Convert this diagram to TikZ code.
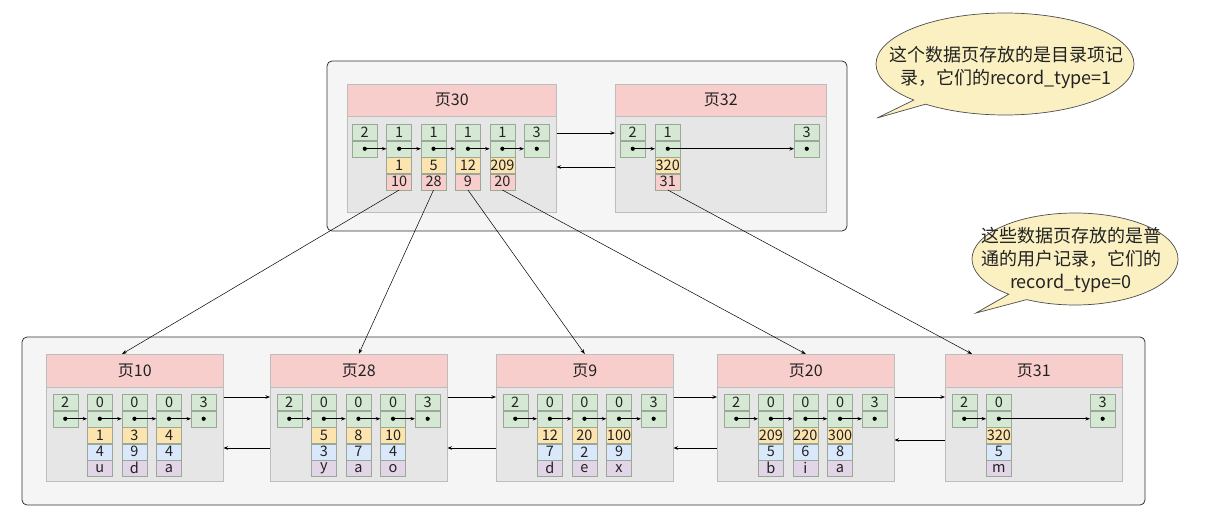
\documentclass[tikz,border=0pt]{standalone}
\usepackage{fontspec}
\setmainfont{Noto Sans CJK SC}
\usetikzlibrary{arrows.meta,calc}
\definecolor{hdrc}{HTML}{F8CECC}
\definecolor{bodyc}{HTML}{E6E6E6}
\definecolor{boxline}{HTML}{BDBDBD}
\definecolor{cg}{HTML}{D5E8D4}
\definecolor{cy}{HTML}{FDE3AE}
\definecolor{cb}{HTML}{DAE8FC}
\definecolor{cp}{HTML}{E1D5E7}
\definecolor{cr}{HTML}{F8CECC}
\definecolor{cellline}{HTML}{9AA898}
\definecolor{contc}{HTML}{F5F5F5}
\definecolor{calloutc}{HTML}{FAF0C2}
\definecolor{txt}{HTML}{222222}
\newcommand\mkrec[4]{%
  \node[gcell] (#1t) at (#2,#3) {#4};
  \node[gcell] (#1d) at (#1t.south west) {};
}
\newcommand\mkdot[1]{\fill[black] (#1d.center) circle[radius=2.1pt];}
\newcommand\lowpage[3]{%
  \node[hdrbox, minimum width=177pt, minimum height=33pt] (#1h) at (#2,354) {#3};
  \node[bodybox, minimum width=177pt, minimum height=94pt] (#1b) at (#2,387) {};
}
\newcommand\lowrec[6]{% name, x, top, yellow, blue, purple
  \mkrec{#1}{#2}{394}{#3}
  \node[ycell] (#1y) at (#1d.south west) {#4};
  \node[bcell] (#1b) at (#1y.south west) {#5};
  \node[pcell] (#1p) at (#1b.south west) {#6};
}
\begin{document}
\begin{tikzpicture}[x=1pt,y=-1pt,
  font=\color{txt},
  cell/.style={draw=cellline, line width=0.5pt, minimum width=25pt, minimum height=16pt,
    inner sep=0pt, anchor=north west, font=\fontsize{14.5}{14.5}\selectfont\color{txt}},
  gcell/.style={cell, fill=cg},
  ycell/.style={cell, fill=cy},
  bcell/.style={cell, fill=cb},
  pcell/.style={cell, fill=cp},
  rcell/.style={cell, fill=cr},
  hdrbox/.style={draw=boxline, fill=hdrc, line width=0.5pt, anchor=north west, inner sep=0pt,
    font=\fontsize{16}{16}\selectfont\color{txt}},
  bodybox/.style={draw=boxline, fill=bodyc, line width=0.5pt, anchor=north west, inner sep=0pt},
  container/.style={draw=black!80, fill=contc, line width=0.8pt, rounded corners=5pt},
  ptr/.style={-{Stealth[length=4.5pt,width=3.5pt]}, line width=0.7pt, black},
  link/.style={-{Stealth[length=5pt,width=3.5pt]}, line width=0.5pt, black},
  callout/.style={draw=black!70, fill=calloutc, line width=0.7pt},
  callouttext/.style={align=center, inner sep=0pt, font=\fontsize{18}{23}\selectfont\color{txt}}
]
\useasboundingbox (0,0) rectangle (1218,530);

% containers
\path[container] (327,61) rectangle (847,231);
\path[container] (22,337) rectangle (1145,505);

% callouts
\path[callout] (1005,64) ++(135:129 and 51)
  arc[start angle=135, end angle=488, x radius=129, y radius=51] -- (877,118) -- cycle;
\node[callouttext] (c1) at (1006,67) {这个数据页存放的是目录项记\\录，它们的record\_type=1};
\path[callout] (1075,259) ++(130:103 and 46)
  arc[start angle=130, end angle=478, x radius=103, y radius=46] -- (976,313) -- cycle;
\node[callouttext] (c2) at (1071,260) {这些数据页存放的是普\\通的用户记录，它们的\\record\_type=0};

% ---------- top pages ----------
\node[hdrbox, minimum width=209pt, minimum height=32pt] (p30h) at (347,84) {页30};
\node[bodybox, minimum width=209pt, minimum height=96pt] (p30b) at (347,116) {};
\node[hdrbox, minimum width=211pt, minimum height=32pt] (p32h) at (615,84) {页32};
\node[bodybox, minimum width=211pt, minimum height=96pt] (p32b) at (615,116) {};

\mkrec{a0}{352}{124}{2}
\mkrec{a1}{386.4}{124}{1}
\mkrec{a2}{420.8}{124}{1}
\mkrec{a3}{455.2}{124}{1}
\mkrec{a4}{489.6}{124}{1}
\mkrec{a5}{524}{124}{3}
\node[ycell] (a1y) at (a1d.south west) {1};
\node[rcell] (a1r) at (a1y.south west) {10};
\node[ycell] (a2y) at (a2d.south west) {5};
\node[rcell] (a2r) at (a2y.south west) {28};
\node[ycell] (a3y) at (a3d.south west) {12};
\node[rcell] (a3r) at (a3y.south west) {9};
\node[ycell] (a4y) at (a4d.south west) {209};
\node[rcell] (a4r) at (a4y.south west) {20};
\draw[ptr] (a0d.center) -- (a1d.west);
\draw[ptr] (a1d.center) -- (a2d.west);
\draw[ptr] (a2d.center) -- (a3d.west);
\draw[ptr] (a3d.center) -- (a4d.west);
\draw[ptr] (a4d.center) -- (a5d.west);
\mkdot{a0}\mkdot{a1}\mkdot{a2}\mkdot{a3}\mkdot{a4}\mkdot{a5}

\mkrec{b0}{620}{124}{2}
\mkrec{b1}{655}{124}{1}
\mkrec{b2}{794}{124}{3}
\node[ycell] (b1y) at (b1d.south west) {320};
\node[rcell] (b1r) at (b1y.south west) {31};
\draw[ptr] (b0d.center) -- (b1d.west);
\draw[ptr] (b1d.center) -- (b2d.west);
\mkdot{b0}\mkdot{b1}\mkdot{b2}

\draw[ptr] ($(p30b.north east)+(0,17)$) -- ($(p32b.north west)+(0,17)$);
\draw[ptr] ($(p32b.north west)+(0,51)$) -- ($(p30b.north east)+(0,51)$);

% ---------- bottom pages ----------
\lowpage{p10}{46}{页10}
\lowpage{p28}{270}{页28}
\lowpage{p9}{496}{页9}
\lowpage{p20}{717}{页20}
\lowpage{p31}{945}{页31}

% page 10
\mkrec{c0}{52.5}{394}{2}
\lowrec{c1}{87.1}{0}{1}{4}{u}
\lowrec{c2}{121.7}{0}{3}{9}{d}
\lowrec{c3}{156.3}{0}{4}{4}{a}
\mkrec{c4}{190.9}{394}{3}
% page 28
\mkrec{d0}{276.5}{394}{2}
\lowrec{d1}{311.1}{0}{5}{3}{y}
\lowrec{d2}{345.7}{0}{8}{7}{a}
\lowrec{d3}{380.3}{0}{10}{4}{o}
\mkrec{d4}{414.9}{394}{3}
% page 9
\mkrec{e0}{502.5}{394}{2}
\lowrec{e1}{537.1}{0}{12}{7}{d}
\lowrec{e2}{571.7}{0}{20}{2}{e}
\lowrec{e3}{606.3}{0}{100}{9}{x}
\mkrec{e4}{640.9}{394}{3}
% page 20
\mkrec{f0}{723.5}{394}{2}
\lowrec{f1}{758.1}{0}{209}{5}{b}
\lowrec{f2}{792.7}{0}{220}{6}{i}
\lowrec{f3}{827.3}{0}{300}{8}{a}
\mkrec{f4}{861.9}{394}{3}
% page 31
\mkrec{g0}{951.5}{394}{2}
\lowrec{g1}{986.1}{0}{320}{5}{m}
\mkrec{g4}{1089.9}{394}{3}

\foreach \p in {c,d,e,f}{
  \draw[ptr] (\p0d.center) -- (\p1d.west);
  \draw[ptr] (\p1d.center) -- (\p2d.west);
  \draw[ptr] (\p2d.center) -- (\p3d.west);
  \draw[ptr] (\p3d.center) -- (\p4d.west);
  \fill[black] (\p0d.center) circle[radius=2.1pt];
  \fill[black] (\p1d.center) circle[radius=2.1pt];
  \fill[black] (\p2d.center) circle[radius=2.1pt];
  \fill[black] (\p3d.center) circle[radius=2.1pt];
  \fill[black] (\p4d.center) circle[radius=2.1pt];
}
\draw[ptr] (g0d.center) -- (g1d.west);
\draw[ptr] (g1d.center) -- (g4d.west);
\mkdot{g0}\mkdot{g1}\mkdot{g4}

% links between bottom pages
\draw[ptr] ($(p10b.north east)+(0,10)$) -- ($(p28b.north west)+(0,10)$);
\draw[ptr] ($(p28b.north west)+(0,61)$) -- ($(p10b.north east)+(0,61)$);
\draw[ptr] ($(p28b.north east)+(0,10)$) -- ($(p9b.north west)+(0,10)$);
\draw[ptr] ($(p9b.north west)+(0,61)$) -- ($(p28b.north east)+(0,61)$);
\draw[ptr] ($(p9b.north east)+(0,10)$) -- ($(p20b.north west)+(0,10)$);
\draw[ptr] ($(p20b.north west)+(0,61)$) -- ($(p9b.north east)+(0,61)$);
\draw[ptr] ($(p20b.north east)+(0,10)$) -- ($(p31b.north west)+(0,10)$);
\draw[ptr] ($(p31b.north west)+(0,53)$) -- ($(p20b.north east)+(0,53)$);

% links from index page to data pages
\draw[link] (a1r.south) -- ($(p10h.north west)+(76,0)$);
\draw[link] (a2r.south) -- (p28h.north);
\draw[link] (a3r.south) -- (p9h.north);
\draw[link] (a4r.south) -- (p20h.north);
\draw[link] (b1r.south) -- ($(p31h.north west)+(27,0)$);
\end{tikzpicture}
\end{document}
